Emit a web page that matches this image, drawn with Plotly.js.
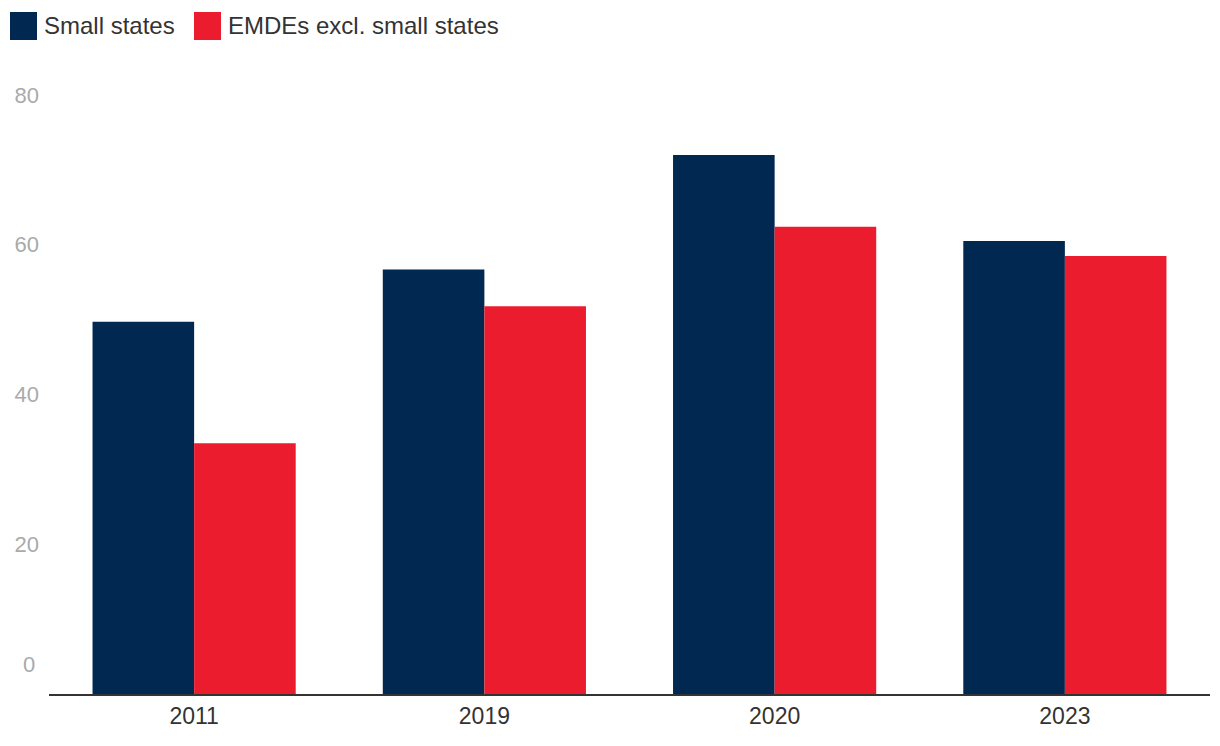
<!DOCTYPE html>
<html>
<head>
<meta charset="utf-8">
<script src="https://cdn.plot.ly/plotly-3.0.1.min.js"></script>
<style>html,body{margin:0;padding:0;background:#fff;}#chart{width:1220px;height:746px;}</style>
</head>
<body>
<div id="chart"></div>
<script>
const categories = ["2011", "2019", "2020", "2023"];
const seriesNames = ["Small states", "EMDEs excl. small states"];
const smallStates = [49.7, 56.7, 72.0, 60.5];
const emdesExcl = [33.5, 51.8, 62.4, 58.5];
const yTickVals = [20, 40, 60, 80];
const yTickText = ["20", "40", "60", "80"];
const colors = ["#002850", "#EB1C2D"];

const font = "Liberation Sans, Arial, Helvetica, sans-serif";
const ML = 49, MR = 10, MT = 95, MB = 52;
const PW = 1220 - ML - MR, PH = 746 - MT - MB;

const traces = [
  {type: "bar", name: seriesNames[0], x: categories, y: smallStates, marker: {color: colors[0]}, hoverinfo: "none"},
  {type: "bar", name: seriesNames[1], x: categories, y: emdesExcl, marker: {color: colors[1]}, hoverinfo: "none"}
];

const legendX = [10, 194];
const shapes = [];
const annotations = [];
seriesNames.forEach((n, i) => {
  shapes.push({type: "rect", xref: "paper", yref: "paper",
    x0: (legendX[i] - ML) / PW, x1: (legendX[i] + 27 - ML) / PW,
    y0: (746 - MB - 40) / PH, y1: (746 - MB - 12) / PH,
    fillcolor: colors[i], line: {width: 0}});
  annotations.push({xref: "paper", yref: "paper",
    x: (legendX[i] + 32 - ML) / PW, y: (746 - MB - 25) / PH,
    xanchor: "left", yanchor: "middle", showarrow: false, text: n,
    font: {family: font, size: 24, color: "#333333"}});
});
annotations.push({xref: "paper", yref: "y", x: 0, y: 4, xanchor: "right", yanchor: "middle",
  xshift: -12, showarrow: false, text: "0", font: {family: font, size: 22, color: "#aaaaaa"}});

const layout = {
  width: 1220, height: 746,
  margin: {l: ML, r: MR, t: MT, b: MB},
  paper_bgcolor: "#ffffff", plot_bgcolor: "#ffffff",
  barmode: "group", bargap: 0.3, bargroupgap: 0,
  showlegend: false,
  xaxis: {type: "category", showline: true, linecolor: "#333333", linewidth: 2,
    ticks: "", showgrid: false, zeroline: false,
    tickfont: {family: font, size: 23, color: "#333333"}},
  yaxis: {range: [0, 80], showline: false, showgrid: false, zeroline: false, ticks: "",
    tickvals: yTickVals, ticktext: yTickText, ticklabelstandoff: 9,
    tickfont: {family: font, size: 22, color: "#aaaaaa"}},
  shapes: shapes,
  annotations: annotations
};

Plotly.newPlot("chart", traces, layout, {staticPlot: true, displayModeBar: false});
</script>
</body>
</html>
